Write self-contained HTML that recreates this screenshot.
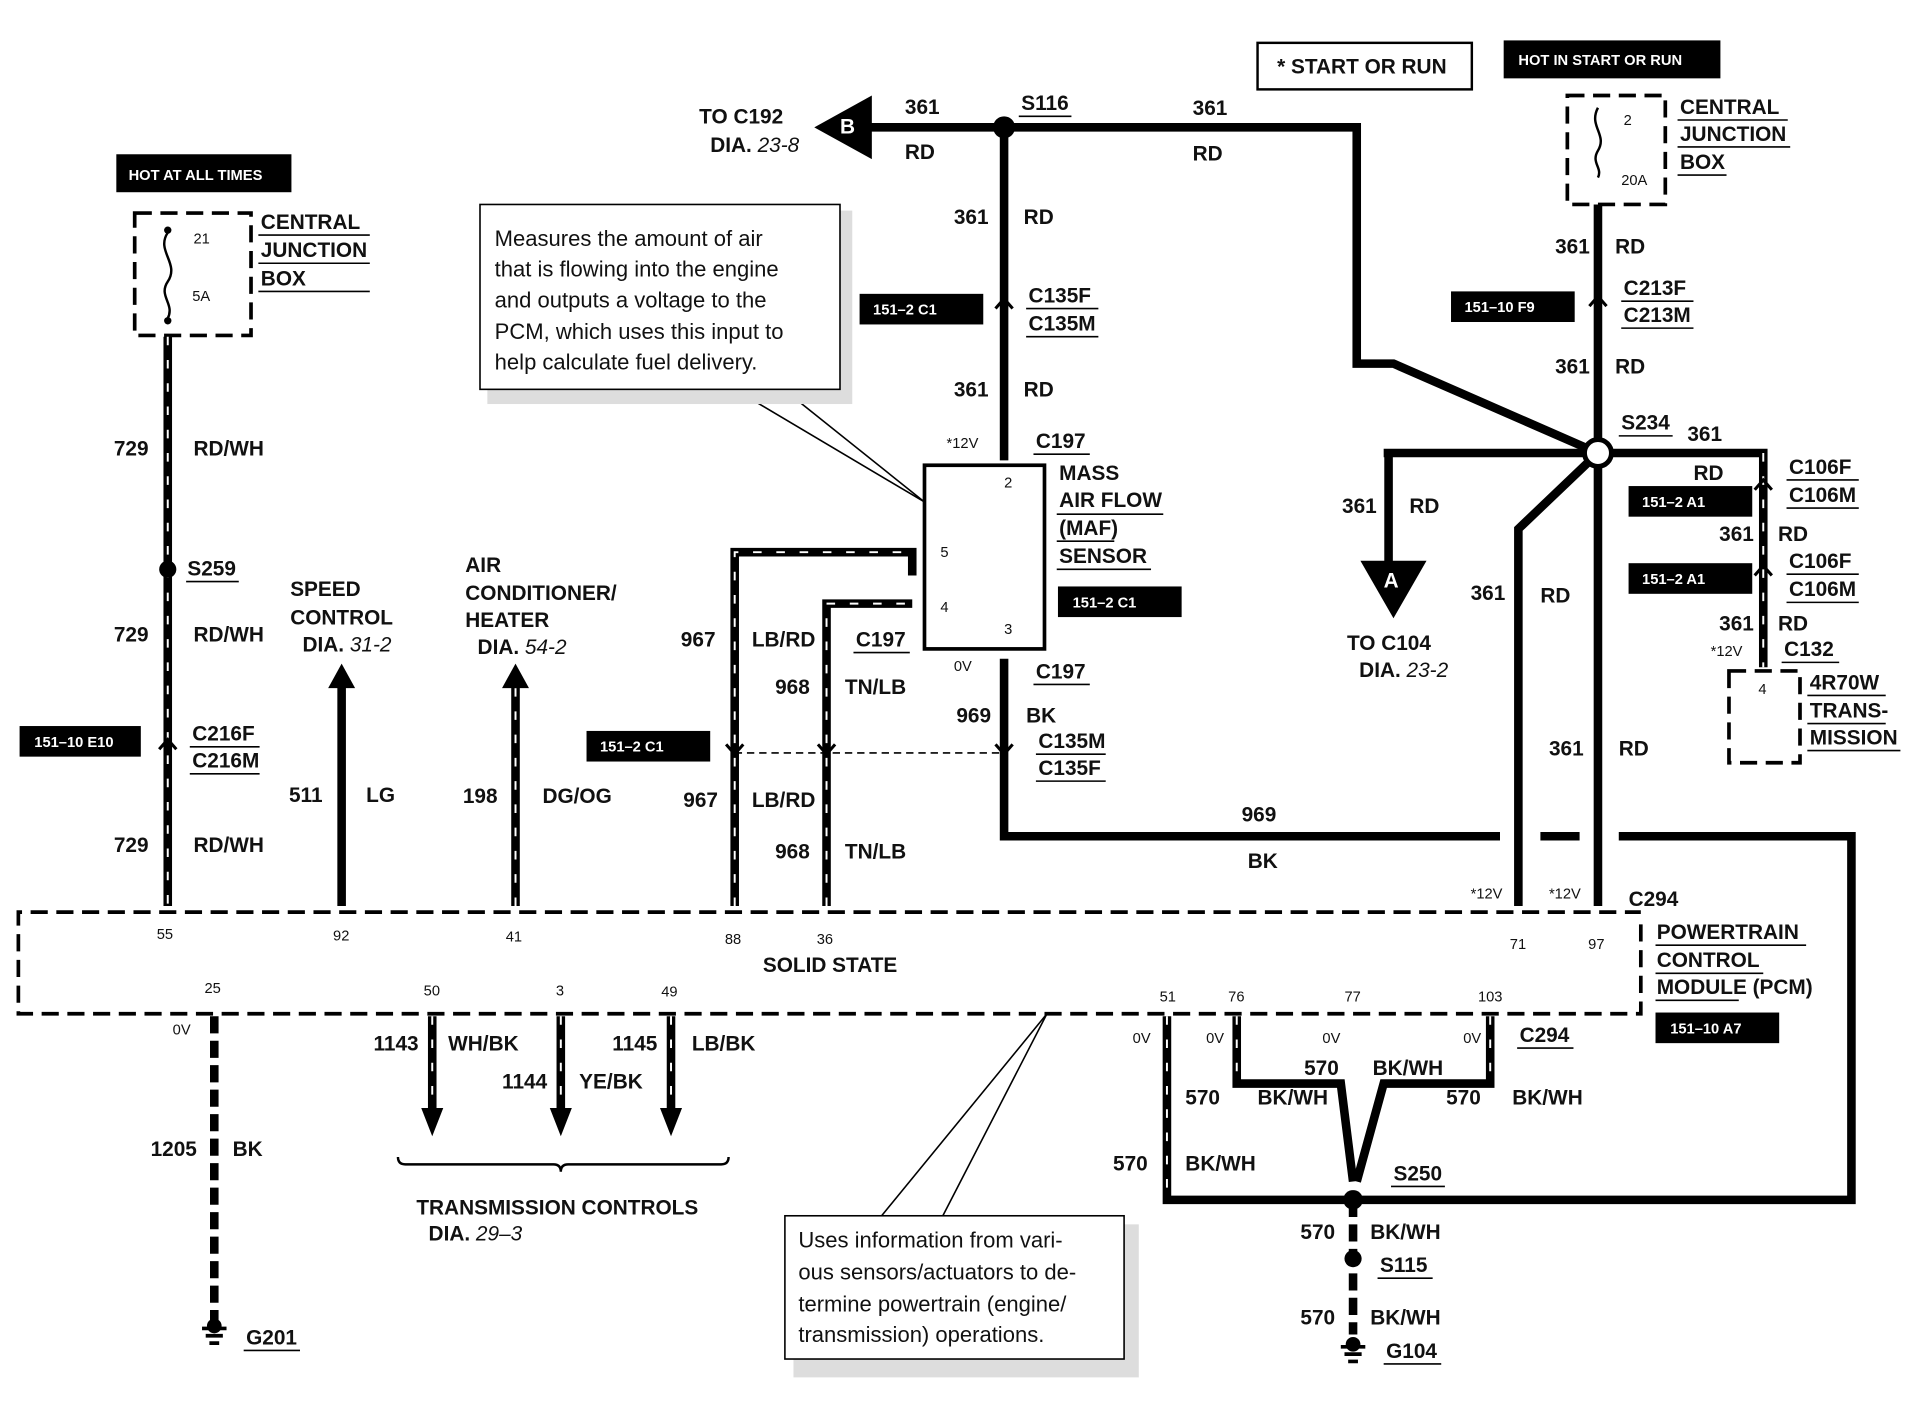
<!DOCTYPE html>
<html><head><meta charset="utf-8"><style>
html,body{margin:0;padding:0;background:#fff}
svg{display:block}
text{font-family:"Liberation Sans",sans-serif;font-weight:bold;fill:#111}
.s{font-size:17px}
.m{font-size:18px;font-weight:normal}
.t{font-size:12px;font-weight:normal}
.w{fill:#fff;font-size:12px}
.k{stroke:#000;stroke-width:7;fill:none}
.kd{stroke:#fff;stroke-width:1.6;fill:none;stroke-dasharray:7 12}
.d{stroke:#000;stroke-width:3;fill:none;stroke-dasharray:14 7}
.u{stroke:#000;stroke-width:1.3}
.c{fill:none;stroke:#000;stroke-width:2.5}
</style></head><body>
<svg width="1920" height="1408" viewBox="0 0 1568 1150" preserveAspectRatio="none" xmlns="http://www.w3.org/2000/svg">
<!-- left CJB -->
<rect x="95" y="126" width="143" height="31" fill="#000"/><text x="105" y="147" class="w">HOT AT ALL TIMES</text>
<rect x="110" y="174" width="95" height="100" class="d"/>
<path d="M137,190 c-10,15 10,25 0,40 c-8,12 6,18 0,30" fill="none" stroke="#000" stroke-width="2"/>
<circle cx="137" cy="188" r="3"/><circle cx="137" cy="262" r="3"/>
<text x="158" y="199" class="t">21</text><text x="157" y="246" class="t">5A</text>
<text x="213" y="187" class="s">CENTRAL</text><text x="213" y="210" class="s">JUNCTION</text><text x="213" y="233" class="s">BOX</text>
<line x1="211" y1="192" x2="302" y2="192" class="u"/><line x1="211" y1="215" x2="302" y2="215" class="u"/><line x1="211" y1="238" x2="302" y2="238" class="u"/>
<path d="M137,275 V740" class="k"/><path d="M137,275 V740" class="kd"/>
<circle cx="137" cy="465" r="7"/>
<path d="M130,612 L137,604 L144,612" class="c" fill="#fff"/>
<text x="93" y="372" class="s">729</text><text x="158" y="372" class="s">RD/WH</text>
<text x="153" y="470" class="s">S259</text><line x1="152" y1="475" x2="195" y2="475" class="u"/>
<text x="93" y="524" class="s">729</text><text x="158" y="524" class="s">RD/WH</text>
<rect x="16" y="593" width="99" height="25" fill="#000"/><text x="28" y="610" class="w">151–10 E10</text>
<text x="157" y="605" class="s">C216F</text><text x="157" y="627" class="s">C216M</text><line x1="155" y1="610" x2="212" y2="610" class="u"/><line x1="155" y1="632" x2="212" y2="632" class="u"/>
<text x="93" y="696" class="s">729</text><text x="158" y="696" class="s">RD/WH</text>
<!-- PCM box -->
<path d="M1340,755 V828 H15 V745 H1340" class="d"/>
<text x="128" y="767" class="t">55</text><text x="272" y="768" class="t">92</text><text x="413" y="769" class="t">41</text><text x="592" y="771" class="t">88</text><text x="667" y="771" class="t">36</text><text x="1233" y="775" class="t">71</text><text x="1297" y="775" class="t">97</text>
<text x="167" y="811" class="t">25</text><text x="346" y="813" class="t">50</text><text x="454" y="813" class="t">3</text><text x="540" y="814" class="t">49</text><text x="947" y="818" class="t">51</text><text x="1003" y="818" class="t">76</text><text x="1098" y="818" class="t">77</text><text x="1207" y="818" class="t">103</text>
<text x="623" y="794" class="s">SOLID STATE</text>
<text x="1353" y="767" class="s">POWERTRAIN</text><text x="1353" y="790" class="s">CONTROL</text><text x="1353" y="812" class="s">MODULE (PCM)</text>
<line x1="1352" y1="772" x2="1475" y2="772" class="u"/><line x1="1352" y1="795" x2="1440" y2="795" class="u"/><line x1="1352" y1="817" x2="1420" y2="817" class="u"/>
<rect x="1352" y="827" width="101" height="25" fill="#000"/><text x="1364" y="844" class="w">151–10 A7</text>
<text x="1330" y="740" class="s">C294</text>
<!-- speed, AC -->
<path d="M279,740 V560" class="k"/><path d="M268,562 L279,542 L290,562z"/>
<text x="237" y="487" class="s">SPEED</text><text x="237" y="510" class="s">CONTROL</text><text x="247" y="532" class="s">DIA. <tspan font-style="italic" font-weight="normal">31-2</tspan></text>
<text x="236" y="655" class="s">511</text><text x="299" y="655" class="s">LG</text>
<path d="M421,740 V560" class="k"/><path d="M421,740 V560" class="kd"/><path d="M410,562 L421,542 L432,562z"/>
<text x="380" y="467" class="s">AIR</text><text x="380" y="490" class="s">CONDITIONER/</text><text x="380" y="512" class="s">HEATER</text><text x="390" y="534" class="s">DIA. <tspan font-style="italic" font-weight="normal">54-2</tspan></text>
<text x="378" y="656" class="s">198</text><text x="443" y="656" class="s">DG/OG</text>
<!-- 967/968 -->
<path d="M600,740 V451 H745 V470" class="k"/><path d="M600,740 V451 H745" class="kd"/>
<path d="M675,740 V493 H745" class="k"/><path d="M675,740 V493 H745" class="kd"/>
<line x1="600" y1="615" x2="820" y2="615" stroke="#000" stroke-width="1.3" stroke-dasharray="6 4"/>
<path d="M593,608 L600,616 L607,608 M668,608 L675,616 L682,608 M813,608 L820,616 L827,608" class="c"/>
<rect x="479" y="597" width="101" height="25" fill="#000"/><text x="490" y="614" class="w">151–2 C1</text>
<text x="556" y="528" class="s">967</text><text x="614" y="528" class="s">LB/RD</text><text x="699" y="528" class="s">C197</text><line x1="697" y1="533" x2="743" y2="533" class="u"/>
<text x="633" y="567" class="s">968</text><text x="690" y="567" class="s">TN/LB</text>
<text x="558" y="659" class="s">967</text><text x="614" y="659" class="s">LB/RD</text>
<text x="633" y="701" class="s">968</text><text x="690" y="701" class="s">TN/LB</text>
<!-- MAF -->
<rect x="755" y="380" width="98" height="150" fill="#fff" stroke="#000" stroke-width="3"/>
<text x="820" y="398" class="t">2</text><text x="768" y="455" class="t">5</text><text x="768" y="500" class="t">4</text><text x="820" y="518" class="t">3</text>
<text x="865" y="392" class="s">MASS</text><text x="865" y="414" class="s">AIR FLOW</text><text x="865" y="437" class="s">(MAF)</text><text x="865" y="460" class="s">SENSOR</text>
<line x1="863" y1="420" x2="950" y2="420" class="u"/><line x1="863" y1="442" x2="910" y2="442" class="u"/><line x1="863" y1="465" x2="940" y2="465" class="u"/>
<rect x="864" y="479" width="101" height="25" fill="#000"/><text x="876" y="496" class="w">151–2 C1</text>
<text x="846" y="366" class="s">C197</text><line x1="844" y1="371" x2="890" y2="371" class="u"/><text x="773" y="366" class="t">*12V</text>
<text x="779" y="548" class="t">0V</text><text x="846" y="554" class="s">C197</text><line x1="844" y1="559" x2="890" y2="559" class="u"/>
<!-- 361 top -->
<path d="M820,376 V104 H1108 V297 H1138 L1305,370" class="k"/>
<path d="M813,252 L820,244 L827,252" class="c"/>
<path d="M820,104 H706" class="k"/><path d="M712,78 L665,104 L712,130z"/><circle cx="692" cy="103" r="12"/><text x="686" y="109" style="fill:#fff" class="s">B</text>
<circle cx="820" cy="104" r="9"/>
<text x="571" y="101" class="s">TO C192</text><text x="580" y="124" class="s">DIA. <tspan font-style="italic" font-weight="normal">23-8</tspan></text>
<text x="739" y="93" class="s">361</text><text x="739" y="130" class="s">RD</text>
<text x="834" y="90" class="s">S116</text><line x1="832" y1="95" x2="875" y2="95" class="u"/>
<text x="974" y="94" class="s">361</text><text x="974" y="131" class="s">RD</text>
<text x="779" y="183" class="s">361</text><text x="836" y="183" class="s">RD</text>
<rect x="702" y="240" width="101" height="25" fill="#000"/><text x="713" y="257" class="w">151–2 C1</text>
<text x="840" y="247" class="s">C135F</text><text x="840" y="270" class="s">C135M</text><line x1="838" y1="252" x2="897" y2="252" class="u"/><line x1="838" y1="275" x2="897" y2="275" class="u"/>
<text x="779" y="324" class="s">361</text><text x="836" y="324" class="s">RD</text>
<!-- 969 -->
<path d="M820,538 V683 H1225 M1258,683 H1290 M1322,683 H1512 V980 H953 V830" class="k"/>
<text x="781" y="590" class="s">969</text><text x="838" y="590" class="s">BK</text>
<text x="848" y="611" class="s">C135M</text><text x="848" y="633" class="s">C135F</text><line x1="846" y1="616" x2="903" y2="616" class="u"/><line x1="846" y1="638" x2="903" y2="638" class="u"/>
<text x="1014" y="671" class="s">969</text><text x="1019" y="709" class="s">BK</text>
<!-- right CJB -->
<rect x="1027" y="35" width="175" height="38" fill="none" stroke="#000" stroke-width="2"/><text x="1043" y="60" class="s">* START OR RUN</text>
<rect x="1228" y="33" width="177" height="31" fill="#000"/><text x="1240" y="53" class="w">HOT IN START OR RUN</text>
<rect x="1280" y="78" width="80" height="89" class="d"/>
<path d="M1305,88 c-8,15 8,22 0,35 c-6,10 4,14 0,22" fill="none" stroke="#000" stroke-width="2"/>
<text x="1326" y="102" class="t">2</text><text x="1324" y="151" class="t">20A</text>
<text x="1372" y="93" class="s">CENTRAL</text><text x="1372" y="115" class="s">JUNCTION</text><text x="1372" y="138" class="s">BOX</text>
<line x1="1370" y1="98" x2="1460" y2="98" class="u"/><line x1="1370" y1="120" x2="1462" y2="120" class="u"/><line x1="1370" y1="143" x2="1410" y2="143" class="u"/>
<path d="M1305,167 V740" class="k"/>
<path d="M1298,250 L1305,242 L1312,250" class="c"/>
<path d="M1305,370 L1240,432 V740" class="k"/>
<path d="M1130,370 H1440 V545" class="k"/><path d="M1440,370 V545" class="kd"/>
<path d="M1433,400 L1440,392 L1447,400 M1433,470 L1440,462 L1447,470" class="c"/>
<path d="M1134,370 V460" class="k"/><path d="M1111,458 L1165,458 L1138,505z"/><text x="1130" y="480" style="fill:#fff" class="s">A</text>
<circle cx="1305" cy="370" r="11" fill="#fff" stroke="#000" stroke-width="4"/>
<text x="1270" y="207" class="s">361</text><text x="1319" y="207" class="s">RD</text>
<rect x="1185" y="238" width="101" height="25" fill="#000"/><text x="1196" y="255" class="w">151–10 F9</text>
<text x="1326" y="241" class="s">C213F</text><text x="1326" y="263" class="s">C213M</text><line x1="1324" y1="246" x2="1383" y2="246" class="u"/><line x1="1324" y1="268" x2="1383" y2="268" class="u"/>
<text x="1270" y="305" class="s">361</text><text x="1319" y="305" class="s">RD</text>
<text x="1324" y="351" class="s">S234</text><line x1="1322" y1="356" x2="1366" y2="356" class="u"/><text x="1378" y="360" class="s">361</text>
<text x="1383" y="392" class="s">RD</text>
<text x="1096" y="419" class="s">361</text><text x="1151" y="419" class="s">RD</text>
<text x="1100" y="531" class="s">TO C104</text><text x="1110" y="553" class="s">DIA. <tspan font-style="italic" font-weight="normal">23-2</tspan></text>
<text x="1201" y="490" class="s">361</text><text x="1258" y="492" class="s">RD</text>
<text x="1265" y="617" class="s">361</text><text x="1322" y="617" class="s">RD</text>
<text x="1201" y="734" class="t">*12V</text><text x="1265" y="734" class="t">*12V</text>
<rect x="1330" y="397" width="101" height="25" fill="#000"/><text x="1341" y="414" class="w">151–2 A1</text>
<rect x="1330" y="460" width="101" height="25" fill="#000"/><text x="1341" y="477" class="w">151–2 A1</text>
<text x="1461" y="387" class="s">C106F</text><text x="1461" y="410" class="s">C106M</text><line x1="1459" y1="392" x2="1518" y2="392" class="u"/><line x1="1459" y1="415" x2="1518" y2="415" class="u"/>
<text x="1404" y="442" class="s">361</text><text x="1452" y="442" class="s">RD</text>
<text x="1461" y="464" class="s">C106F</text><text x="1461" y="487" class="s">C106M</text><line x1="1459" y1="469" x2="1518" y2="469" class="u"/><line x1="1459" y1="492" x2="1518" y2="492" class="u"/>
<text x="1404" y="515" class="s">361</text><text x="1452" y="515" class="s">RD</text>
<text x="1397" y="536" class="t">*12V</text><text x="1457" y="536" class="s">C132</text><line x1="1455" y1="541" x2="1502" y2="541" class="u"/>
<rect x="1412" y="548" width="58" height="75" class="d"/><text x="1436" y="567" class="t">4</text>
<text x="1478" y="563" class="s">4R70W</text><text x="1478" y="586" class="s">TRANS-</text><text x="1478" y="608" class="s">MISSION</text>
<line x1="1476" y1="568" x2="1540" y2="568" class="u"/><line x1="1476" y1="591" x2="1540" y2="591" class="u"/><line x1="1476" y1="613" x2="1552" y2="613" class="u"/>
<!-- bottom left -->
<path d="M175,830 V1080" class="k" style="stroke-dasharray:14 6"/>
<path d="M165,1085 h20 M168,1091 h14 M171,1097 h8" stroke="#000" stroke-width="3"/><circle cx="175" cy="1083" r="6"/>
<text x="201" y="1098" class="s">G201</text><line x1="199" y1="1103" x2="245" y2="1103" class="u"/>
<text x="141" y="845" class="t">0V</text>
<text x="123" y="944" class="s">1205</text><text x="190" y="944" class="s">BK</text>
<path d="M353,830 V905" class="k"/><path d="M353,830 V905" class="kd"/><path d="M344,905 L353,928 L362,905z"/>
<path d="M458,830 V905" class="k"/><path d="M458,830 V905" class="kd"/><path d="M449,905 L458,928 L467,905z"/>
<path d="M548,830 V905" class="k"/><path d="M548,830 V905" class="kd"/><path d="M539,905 L548,928 L557,905z"/>
<text x="305" y="858" class="s">1143</text><text x="366" y="858" class="s">WH/BK</text>
<text x="410" y="889" class="s">1144</text><text x="473" y="889" class="s">YE/BK</text>
<text x="500" y="858" class="s">1145</text><text x="565" y="858" class="s">LB/BK</text>
<path d="M325,945 q0,6 6,6 H452 q6,0 6,6 q0,-6 6,-6 H589 q6,0 6,-6" fill="none" stroke="#000" stroke-width="2"/>
<text x="340" y="992" class="s">TRANSMISSION CONTROLS</text><text x="350" y="1013" class="s">DIA. <tspan font-style="italic" font-weight="normal">29–3</tspan></text>
<!-- 570 -->
<path d="M1010,830 V885 H1095 L1105,965 M1217,830 V885 H1130 L1108,965" class="k"/>
<path d="M953,830 V980 M1010,830 V885 M1217,830 V885" class="kd"/>
<path d="M1105,980 V1090" class="k" style="stroke-dasharray:14 6"/>
<circle cx="1105" cy="980" r="8"/><circle cx="1105" cy="1028" r="7"/>
<path d="M1095,1100 h20 M1098,1106 h14 M1101,1112 h8" stroke="#000" stroke-width="3"/><circle cx="1105" cy="1098" r="6"/>
<text x="925" y="852" class="t">0V</text><text x="985" y="852" class="t">0V</text><text x="1080" y="852" class="t">0V</text><text x="1195" y="852" class="t">0V</text>
<text x="1241" y="851" class="s">C294</text><line x1="1239" y1="856" x2="1285" y2="856" class="u"/>
<text x="1065" y="878" class="s">570</text><text x="1121" y="878" class="s">BK/WH</text>
<text x="968" y="902" class="s">570</text><text x="1027" y="902" class="s">BK/WH</text>
<text x="1181" y="902" class="s">570</text><text x="1235" y="902" class="s">BK/WH</text>
<text x="909" y="956" class="s">570</text><text x="968" y="956" class="s">BK/WH</text>
<text x="1138" y="964" class="s">S250</text><line x1="1136" y1="969" x2="1180" y2="969" class="u"/>
<text x="1062" y="1012" class="s">570</text><text x="1119" y="1012" class="s">BK/WH</text>
<text x="1127" y="1039" class="s">S115</text><line x1="1125" y1="1044" x2="1170" y2="1044" class="u"/>
<text x="1062" y="1082" class="s">570</text><text x="1119" y="1082" class="s">BK/WH</text>
<text x="1132" y="1109" class="s">G104</text><line x1="1130" y1="1114" x2="1177" y2="1114" class="u"/>
<!-- callouts -->
<line x1="600" y1="318" x2="755" y2="410" class="u"/><line x1="640" y1="318" x2="755" y2="410" class="u"/>
<rect x="398" y="172" width="298" height="158" fill="#ddd"/>
<rect x="392" y="167" width="294" height="151" fill="#fff" stroke="#000" stroke-width="1.3"/>
<text x="404" y="201" class="m">Measures the amount of air</text><text x="404" y="226" class="m">that is flowing into the engine</text><text x="404" y="251" class="m">and outputs a voltage to the</text><text x="404" y="277" class="m">PCM, which uses this input to</text><text x="404" y="302" class="m">help calculate fuel delivery.</text>
<line x1="720" y1="993" x2="855" y2="828" class="u"/><line x1="770" y1="993" x2="855" y2="828" class="u"/>
<rect x="648" y="1000" width="282" height="125" fill="#ddd"/>
<rect x="641" y="993" width="277" height="117" fill="#fff" stroke="#000" stroke-width="1.3"/>
<text x="652" y="1019" class="m">Uses information from vari-</text><text x="652" y="1045" class="m">ous sensors/actuators to de-</text><text x="652" y="1071" class="m">termine powertrain (engine/</text><text x="652" y="1096" class="m">transmission) operations.</text>
</svg>
</body></html>
